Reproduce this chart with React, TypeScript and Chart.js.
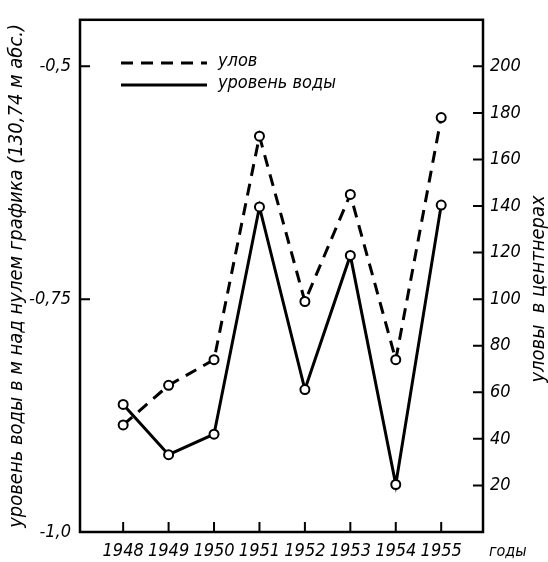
import React, { useEffect, useRef } from 'react';
import { Chart, registerables } from 'chart.js';

Chart.register(...registerables);

const years = [1948, 1949, 1950, 1951, 1952, 1953, 1954, 1955];
const catchValues = [46, 63, 74, 170, 99, 145, 74, 178];
const waterLevels = [-0.863, -0.917, -0.895, -0.651, -0.847, -0.703, -0.949, -0.649];
const leftTicks = [-1.0, -0.75, -0.5];
const leftTickLabels = ['-1,0', '-0,75', '-0,5'];
const rightTicks = [20, 40, 60, 80, 100, 120, 140, 160, 180, 200];
const catchLabel = 'улов';
const waterLabel = 'уровень воды';
const leftTitle = 'уровень воды в м над нулем графика (130,74 м абс.)';
const rightTitle = 'уловы  в центнерах';
const xUnit = 'годы';

const FONT = "'DejaVu Sans Condensed', 'Liberation Sans Narrow', sans-serif";

const decor = {
  id: 'decor',
  afterDraw(chart: any) {
    const { ctx, chartArea: a, scales } = chart;
    ctx.save();
    ctx.strokeStyle = '#000';
    ctx.lineWidth = 2.5;
    ctx.strokeRect(a.left, a.top, a.right - a.left, a.bottom - a.top);
    ctx.lineWidth = 2;
    const tl = 10;
    ctx.beginPath();
    leftTicks.forEach((v) => {
      const y = scales.y.getPixelForValue(v);
      ctx.moveTo(a.left, y); ctx.lineTo(a.left + tl, y);
    });
    rightTicks.forEach((v) => {
      const y = scales.y2.getPixelForValue(v);
      ctx.moveTo(a.right, y); ctx.lineTo(a.right - tl, y);
    });
    years.forEach((v) => {
      const x = scales.x.getPixelForValue(v);
      ctx.moveTo(x, a.bottom); ctx.lineTo(x, a.bottom - tl);
    });
    ctx.stroke();

    // titles
    ctx.fillStyle = '#000';
    ctx.font = `italic 20px ${FONT}`;
    ctx.textAlign = 'center';
    ctx.textBaseline = 'middle';
    ctx.save();
    ctx.translate(17, (a.top + a.bottom) / 2);
    ctx.rotate(-Math.PI / 2);
    ctx.fillText(leftTitle, 0, 0);
    ctx.restore();
    ctx.save();
    ctx.translate(539, 289);
    ctx.rotate(-Math.PI / 2);
    ctx.fillText(rightTitle, 0, 0);
    ctx.restore();

    // x unit
    ctx.font = `italic 16px ${FONT}`;
    ctx.textAlign = 'left';
    ctx.fillText(xUnit, 489, 552);

    // legend
    const ds = chart.data.datasets;
    const rows = [{ d: ds[0], y: 63 }, { d: ds[1], y: 85 }];
    rows.forEach(({ d, y }) => {
      ctx.beginPath();
      ctx.lineWidth = d.borderWidth;
      ctx.setLineDash(d.borderDash || []);
      ctx.moveTo(121, y); ctx.lineTo(207, y);
      ctx.stroke();
      ctx.setLineDash([]);
      ctx.font = `italic 18px ${FONT}`;
      ctx.fillText(d.label, 218, y - 2);
    });
    ctx.restore();
  },
};

export default function App() {
  const ref = useRef<HTMLCanvasElement | null>(null);
  useEffect(() => {
    if (!ref.current) return;
    const tickFont = { family: FONT, size: 18, style: 'italic' as const };
    const chart = new Chart(ref.current, {
      type: 'line',
      data: {
        datasets: [
          {
            label: catchLabel,
            data: years.map((x, i) => ({ x, y: catchValues[i] })),
            yAxisID: 'y2',
            borderColor: '#000',
            borderWidth: 3,
            borderDash: [12, 8],
            pointRadius: 4.5,
            pointBorderWidth: 2,
            pointBackgroundColor: '#fff',
            pointBorderColor: '#000',
            tension: 0,
          },
          {
            label: waterLabel,
            data: years.map((x, i) => ({ x, y: waterLevels[i] })),
            yAxisID: 'y',
            borderColor: '#000',
            borderWidth: 3,
            pointRadius: 4.5,
            pointBorderWidth: 2,
            pointBackgroundColor: '#fff',
            pointBorderColor: '#000',
            tension: 0,
          },
        ],
      },
      options: {
        animation: false,
        responsive: false,
        layout: { padding: { top: 15, left: 0, right: 0, bottom: 0 } },
        plugins: { legend: { display: false }, tooltip: { enabled: false } },
        scales: {
          x: {
            type: 'linear',
            min: 1947.05,
            max: 1955.92,
            afterBuildTicks: (s: any) => { s.ticks = years.map((v) => ({ value: v })); },
            afterFit: (s: any) => { s.height = 30; },
            grid: { display: false, drawTicks: false },
            border: { display: false },
            ticks: { color: '#000', font: tickFont, padding: 9, maxRotation: 0, autoSkip: false, callback: (v: any) => String(v) },
          },
          y: {
            type: 'linear',
            position: 'left',
            min: -1.0,
            max: -0.45,
            afterBuildTicks: (s: any) => { s.ticks = leftTicks.map((v) => ({ value: v })); },
            afterFit: (s: any) => { s.width = 80; },
            grid: { display: false, drawTicks: false },
            border: { display: false },
            ticks: {
              color: '#000', font: tickFont, padding: 9, autoSkip: false,
              callback: (v: any) => leftTickLabels[leftTicks.indexOf(Number(v))] ?? '',
            },
          },
          y2: {
            type: 'linear',
            position: 'right',
            min: 0,
            max: 220,
            afterBuildTicks: (s: any) => { s.ticks = rightTicks.map((v) => ({ value: v })); },
            afterFit: (s: any) => { s.width = 65; },
            grid: { display: false, drawTicks: false },
            border: { display: false },
            ticks: { color: '#000', font: tickFont, padding: 7, autoSkip: false },
          },
        },
      },
      plugins: [decor],
    });
    return () => chart.destroy();
  }, []);
  return (
    <div style={{ position: 'absolute', left: 0, top: 0, width: 548, height: 562, background: '#fff' }}>
      <canvas ref={ref} width={548} height={562} />
    </div>
  );
}
